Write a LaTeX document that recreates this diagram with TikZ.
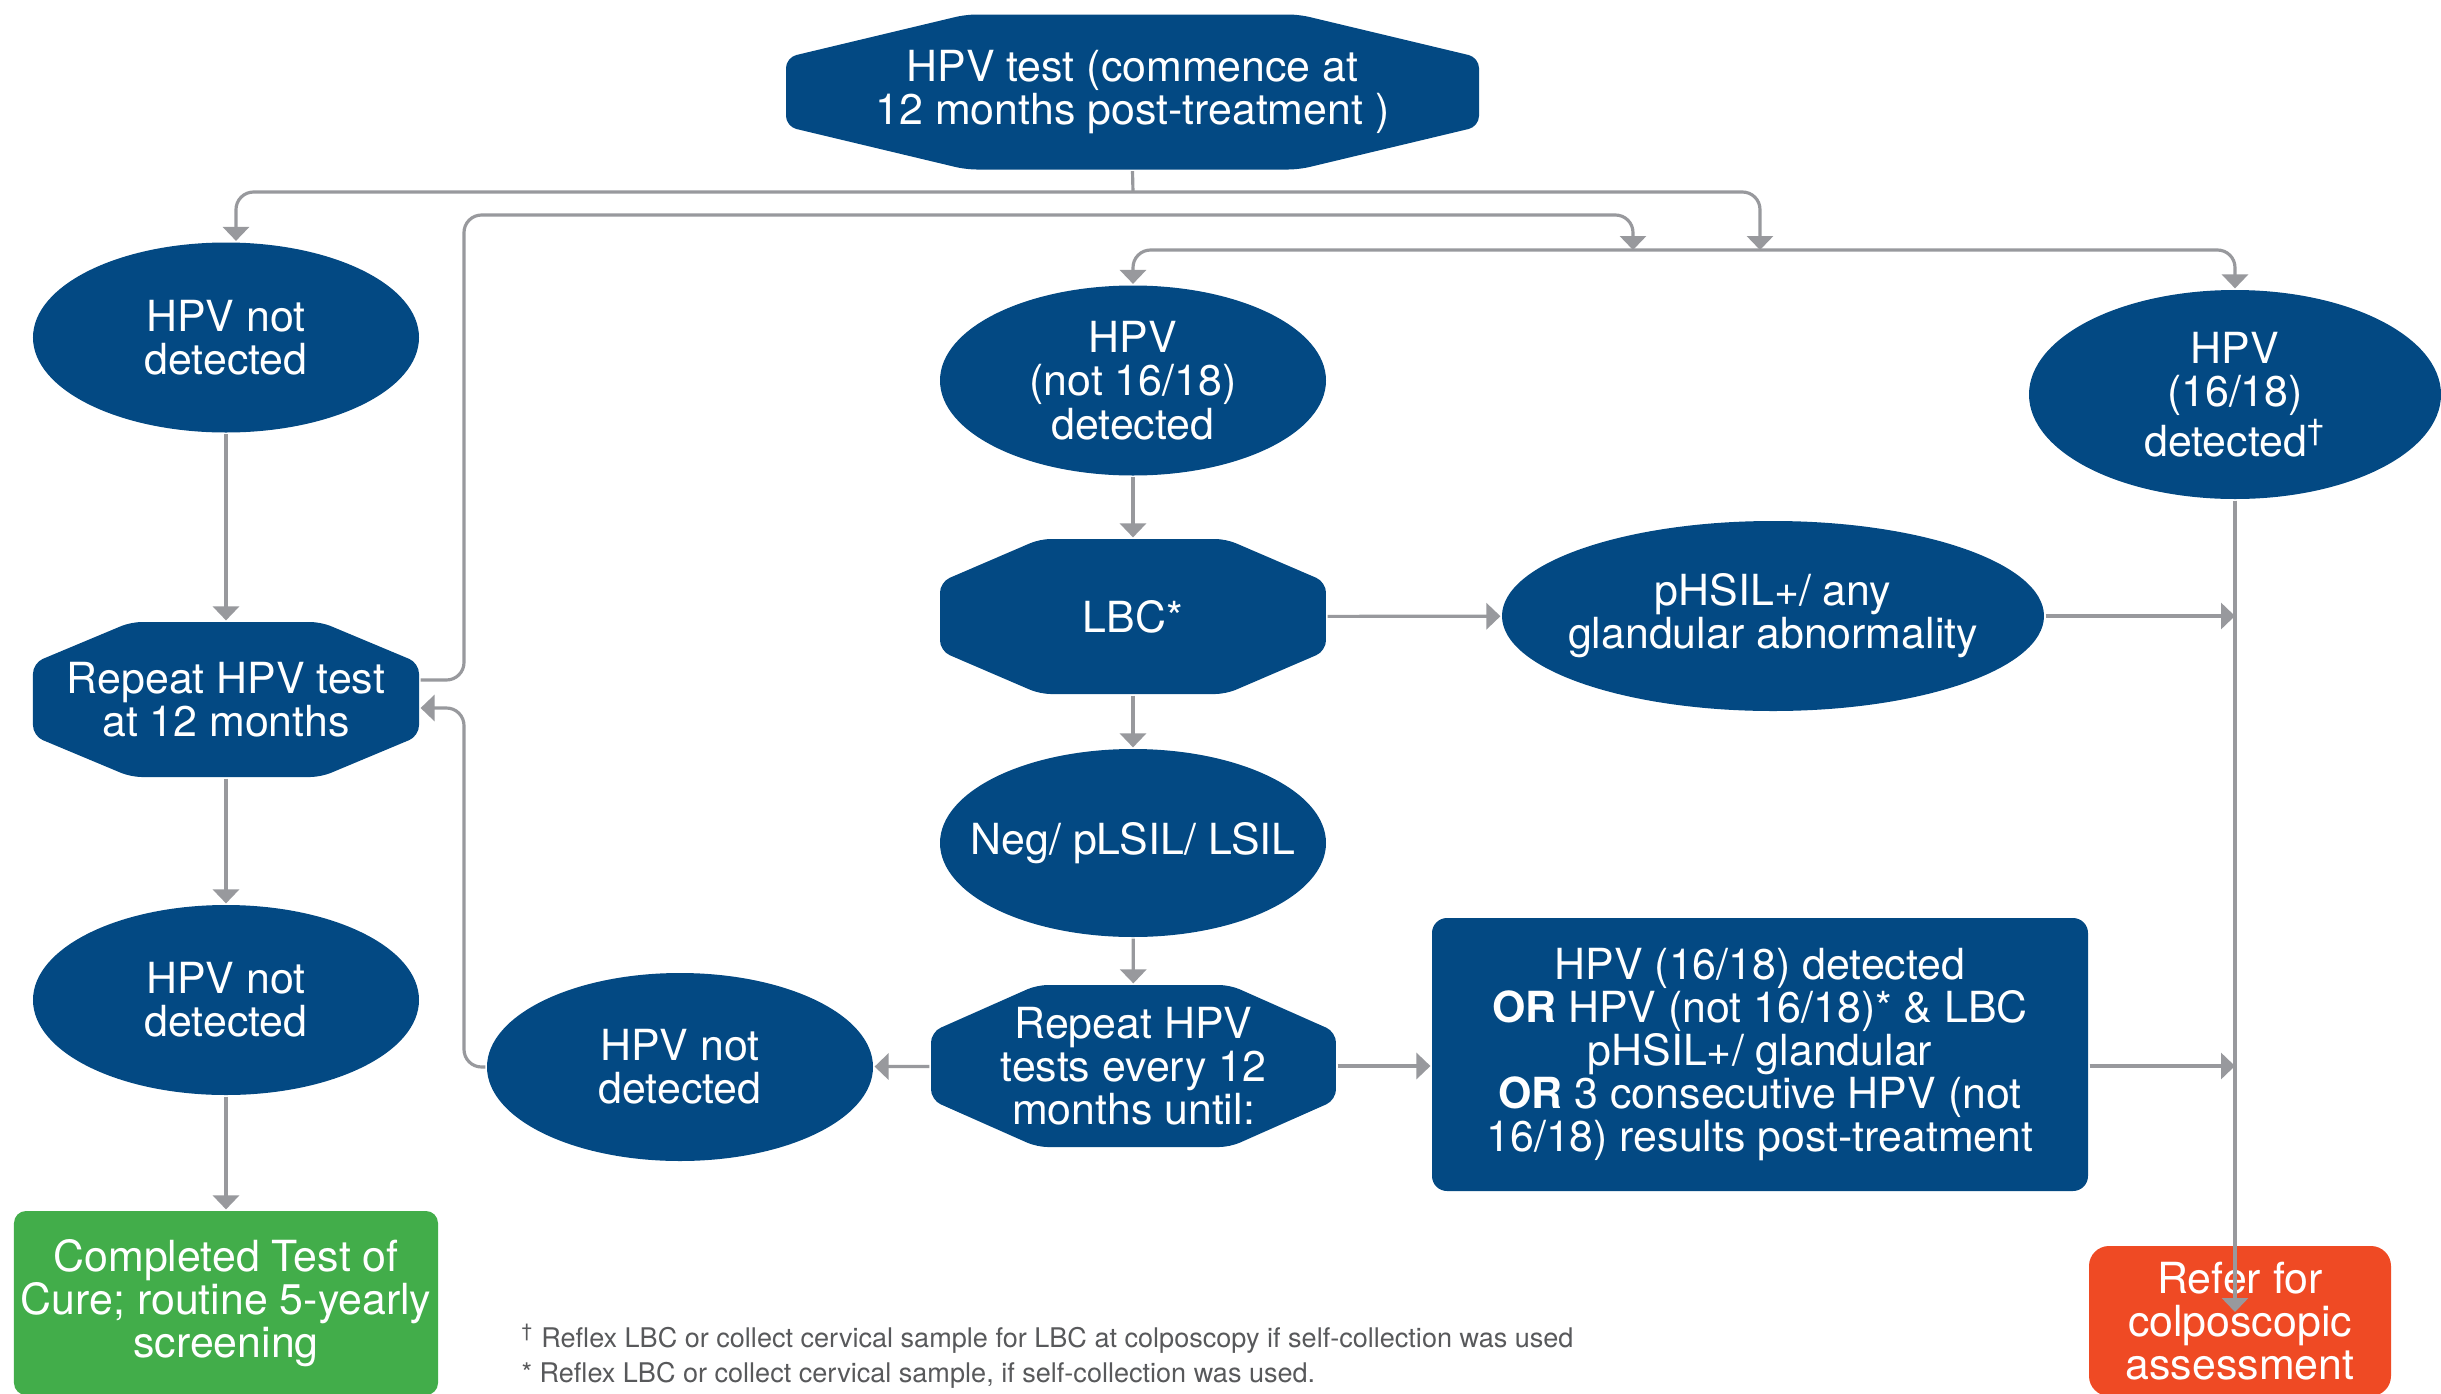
\documentclass[tikz,border=0pt]{standalone}
\usepackage{fontspec}
\setmainfont{TeX Gyre Heros}
\usetikzlibrary{arrows.meta,shapes.geometric,positioning}

\definecolor{hpvblue}{RGB}{3,73,131}
\definecolor{hpvgreen}{RGB}{66,173,74}
\definecolor{hpvred}{RGB}{239,74,36}
\definecolor{linegray}{RGB}{152,153,157}
\definecolor{notegray}{RGB}{88,89,91}

\tikzset{hexcx/.store in=\hexcx, hexcx=1cm,
         hexcy/.store in=\hexcy, hexcy=0.43cm}

\begin{document}
\begin{tikzpicture}[->,>={Triangle[width=0.26cm,length=0.14cm]},
                    line width=0.9pt, rounded corners=5pt]
  \tikzstyle{every node}=[font=\fontsize{12.2}{12.3}\selectfont, text=white,
                          align=center, inner sep=0pt]
  \tikzstyle{every edge}=[draw=linegray]
  \tikzstyle{oval}=[ellipse, fill=hpvblue, inner sep=-1cm,
                    minimum width=3.86cm, minimum height=1.9cm]
  \tikzstyle{hexa}=[rectangle, minimum width=3.86cm, minimum height=1.55cm,
    path picture={\fill[hpvblue, rounded corners=3pt]
      ([xshift=\hexcx]path picture bounding box.north west)
      -- ([xshift=-\hexcx]path picture bounding box.north east)
      -- ([yshift=-\hexcy]path picture bounding box.north east)
      -- ([yshift=\hexcy]path picture bounding box.south east)
      -- ([xshift=-\hexcx]path picture bounding box.south east)
      -- ([xshift=\hexcx]path picture bounding box.south west)
      -- ([yshift=\hexcy]path picture bounding box.south west)
      -- ([yshift=-\hexcy]path picture bounding box.north west) -- cycle;}]
  \tikzstyle{card}=[rectangle, fill=hpvblue, rounded corners=0.15cm]
  \tikzstyle{note}=[text=notegray, font=\fontsize{7.7}{8.5}\selectfont, anchor=west]

  \fill[white, sharp corners] (0,0) rectangle (24.41,-13.94);
  \useasboundingbox (0,0) rectangle (24.41,-13.94);

  % left column
  \node[hexa, minimum width=6.93cm, hexcx=1.8cm] (Top) at (11.325,-0.92)
       {HPV test (commence at\\12 months post-treatment )};
  \node[oval] (NdA) at (2.26,-3.375) {HPV not\\detected};
  \node[hexa, hexcx=0.98cm, hexcy=0.41cm] (RepA) at (2.26,-6.995)
       {Repeat HPV test\\at 12 months};
  \node[oval] (NdB) at (2.26,-10.0) {HPV not\\detected};
  \node[card, fill=hpvgreen, rounded corners=0.12cm, minimum width=4.24cm,
        minimum height=1.84cm] (Cure) at (2.26,-13.03)
       {Completed Test of\\Cure; routine 5-yearly\\screening};

  % middle and right
  \node[oval] (HpvN) at (11.33,-3.805) {HPV\\(not 16/18)\\detected};
  \node[hexa] (Lbc) at (11.33,-6.165) {LBC*};
  \node[oval, minimum width=5.42cm] (Phsil) at (17.73,-6.16)
       {pHSIL+/ any\\glandular abnormality};
  \node[oval, minimum width=4.12cm, minimum height=2.09cm] (HpvP) at (22.35,-3.945)
       {HPV\\(16/18)\\detected\textsuperscript{†}};
  \node[oval, minimum height=1.88cm] (Neg) at (11.33,-8.43) {Neg/ pLSIL/ LSIL};
  \node[hexa, minimum width=4.05cm, minimum height=1.62cm, hexcx=1.06cm,
        hexcy=0.47cm] (RepB) at (11.335,-10.66)
       {Repeat HPV\\tests every 12\\months until:};
  \node[oval, minimum height=1.88cm] (NdC) at (6.80,-10.67) {HPV not\\detected};
  \node[card, minimum width=6.56cm, minimum height=2.73cm] (Big) at (17.60,-10.545)
       {HPV (16/18) detected\\\textbf{OR} HPV (not 16/18)* \& LBC\\pHSIL+/ glandular\\
        \textbf{OR} 3 consecutive HPV (not\\16/18) results post-treatment};
  \node[card, fill=hpvred, rounded corners=0.2cm, minimum width=3.02cm,
        minimum height=1.5cm] (Refer) at (22.40,-13.21)
       {Refer for\\colposcopic\\assessment};

  % footnotes
  \node[note] (NoteA) at (5.20,-13.39)
       {\textsuperscript{†} Reflex LBC or collect cervical sample for LBC at colposcopy if self-collection was used};
  \node[note] (NoteB) at (5.20,-13.75)
       {* Reflex LBC or collect cervical sample, if self-collection was used.};

  \coordinate (BusA) at (11.33,-1.92);
  \coordinate (BusB) at (4.64,-2.15);
  \coordinate (BusC) at (16.0,-2.50);
  \coordinate (DropA) at (17.60,-2.50);
  \coordinate (DropB) at (16.33,-2.50);
  \coordinate (Back) at (4.64,-7.08);
  \coordinate (Tap) at (22.35,-13.12);

  \path (NdA) edge (RepA)
        (RepA) edge (NdB)
        (NdB) edge (Cure)
        (HpvN) edge (Lbc)
        (Lbc) edge (Neg)
        (Neg) edge (RepB)
        (Lbc) edge (Phsil)
        (RepB) edge (NdC)
        (RepB) edge (Big.west |- RepB);

  \draw[-, linegray] (Top.south) -- (BusA);
  \draw[<->, linegray] ([xshift=1mm]NdA.north) |- (BusA) -| (DropA);
  \draw[linegray] ([yshift=1.95mm]RepA.east) -| (BusB) -| (DropB);
  \draw[<->, linegray] (HpvN.north) |- (BusC) -| (HpvP.north);
  \draw[linegray] (NdC.west) -| (Back) -- (Back -| RepA.east);
  \draw[linegray] (HpvP.south) -- (Tap);
  \draw[linegray] (Phsil.east) -- (Phsil.east -| HpvP);
  \draw[linegray] (Big.east |- RepB) -- (RepB -| HpvP);
\end{tikzpicture}
\end{document}
